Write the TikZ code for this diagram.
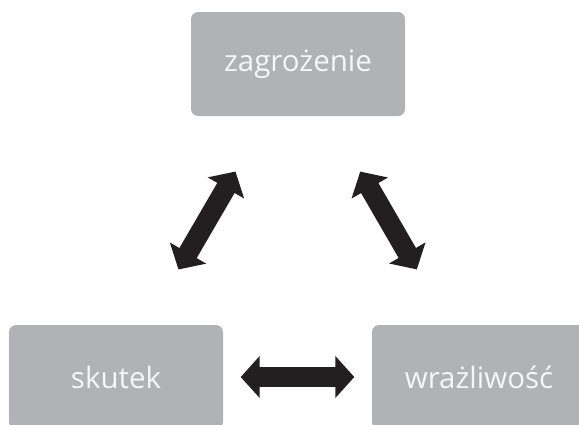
\documentclass[tikz,border=0pt]{standalone}
\usepackage{fontspec}
\setmainfont{Open Sans}
\usetikzlibrary{arrows.meta}
\definecolor{boxgray}{HTML}{B1B2B5}
\definecolor{arrowblack}{HTML}{231F20}
\definecolor{labelwhite}{HTML}{F6F6F6}
\begin{document}
\begin{tikzpicture}[x=1pt,y=-1pt,
  box/.style={fill=boxgray, draw=none, rounded corners=7pt,
    minimum width=214pt, minimum height=104pt, inner sep=0pt,
    text=labelwhite, font=\fontsize{29.5}{32}\selectfont},
  bigarrow/.style={draw=arrowblack, line width=20pt,
    {Triangle[length=19pt,width=41pt,fill=arrowblack]}-{Triangle[length=19pt,width=41pt,fill=arrowblack]}}
]
\useasboundingbox (0,0) rectangle (579,424);
\clip (0,0) rectangle (579,424);
\node[box] (top) at (298,64) {zagrożenie};
\node[box] (left) at (116,377) {skutek};
\node[box] (right) at (479,377) {wrażliwość};
\draw[bigarrow, shorten <=64pt, shorten >=64pt] (top) -- (left);
\draw[bigarrow, shorten <=64pt, shorten >=64pt] (top) -- (right);
\draw[bigarrow, shorten <=17.5pt, shorten >=17.5pt] (left) -- (right);
\end{tikzpicture}
\end{document}
